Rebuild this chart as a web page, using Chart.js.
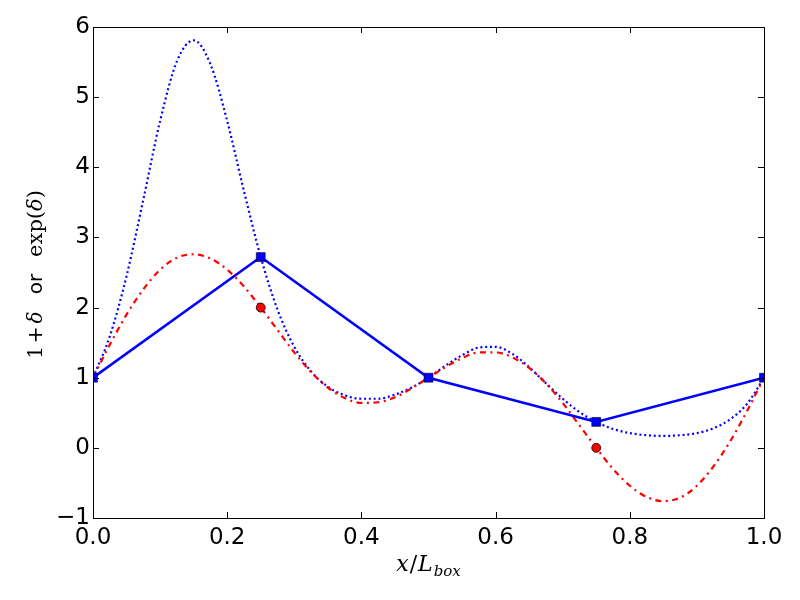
<!DOCTYPE html>
<html>
<head>
<meta charset="utf-8">
<script src="https://cdn.jsdelivr.net/npm/chart.js@4"></script>
<style>
  html, body { margin: 0; padding: 0; background: #fff; }
  #wrap { width: 800px; height: 600px; }
</style>
</head>
<body>
<div id="wrap"><canvas id="chart" width="800" height="600"></canvas></div>
<script>
// values
var xFine = [0, 0.025, 0.05, 0.075, 0.1, 0.125, 0.15, 0.175, 0.2, 0.225, 0.25,
             0.275, 0.3, 0.325, 0.35, 0.375, 0.4, 0.425, 0.45, 0.475, 0.5,
             0.525, 0.55, 0.575, 0.6, 0.625, 0.65, 0.675, 0.7, 0.725, 0.75,
             0.775, 0.8, 0.825, 0.85, 0.875, 0.9, 0.925, 0.95, 0.975, 1];
var onePlusDelta = [1.00, 1.47, 1.90, 2.26, 2.54, 2.71, 2.76, 2.70, 2.54, 2.30, 2.00,
                    1.68, 1.36, 1.08, 0.86, 0.71, 0.64, 0.65, 0.72, 0.85, 1.00,
                    1.15, 1.28, 1.36, 1.36, 1.29, 1.14, 0.92, 0.64, 0.32, 0.00,
                    -0.30, -0.54, -0.70, -0.76, -0.71, -0.54, -0.26, 0.10, 0.53, 1.00];
var expDelta = [1.00, 1.59, 2.45, 3.54, 4.66, 5.51, 5.81, 5.47, 4.66, 3.66, 2.72,
                1.97, 1.44, 1.09, 0.87, 0.75, 0.70, 0.70, 0.76, 0.86, 1.00,
                1.17, 1.32, 1.43, 1.44, 1.34, 1.15, 0.92, 0.70, 0.51, 0.37,
                0.27, 0.21, 0.18, 0.17, 0.18, 0.21, 0.28, 0.41, 0.63, 1.00];
var xGrid = [0, 0.25, 0.5, 0.75, 1];
var expGrid = [1, 2.72, 1, 0.37, 1];
var xDots = [0.25, 0.75];
var dotVals = [2, 0];
var xTicks = [0, 0.2, 0.4, 0.6, 0.8, 1];
var yTicks = [-1, 0, 1, 2, 3, 4, 5, 6];

function pairs(xs, ys) {
  return xs.map(function (x, i) { return { x: x, y: ys[i] }; });
}

function drawPieces(c, pieces, cx, baseY) {
  var total = 0;
  pieces.forEach(function (p) {
    c.font = p.font || c.font;
    p.w = p.t ? c.measureText(p.t).width : p.gap;
    total += p.w;
  });
  var x = cx - total / 2;
  pieces.forEach(function (p) {
    if (p.t) {
      c.font = p.font;
      c.fillText(p.t, x, baseY + (p.dy || 0));
    }
    x += p.w;
  });
}

// box, inward ticks and the two axis titles
var framePlugin = {
  id: 'frame',
  afterDraw: function (chart) {
    var c = chart.ctx, a = chart.chartArea;
    var sx = chart.scales.x, sy = chart.scales.y;
    c.save();
    c.strokeStyle = '#000';
    c.lineWidth = 1;
    c.strokeRect(a.left + 0.5, a.top + 0.5, a.right - a.left, a.bottom - a.top);
    c.beginPath();
    xTicks.forEach(function (v) {
      var px = Math.round(sx.getPixelForValue(v)) + 0.5;
      c.moveTo(px, a.bottom); c.lineTo(px, a.bottom - 6);
      c.moveTo(px, a.top); c.lineTo(px, a.top + 6);
    });
    yTicks.forEach(function (v) {
      var py = Math.round(sy.getPixelForValue(v)) + 0.5;
      c.moveTo(a.left, py); c.lineTo(a.left + 6, py);
      c.moveTo(a.right, py); c.lineTo(a.right - 6, py);
    });
    c.stroke();

    c.fillStyle = '#000';
    c.textBaseline = 'alphabetic';
    c.textAlign = 'left';
    var serif = '"DejaVu Serif"';
    drawPieces(c, [
      { t: 'x', font: 'italic 22px ' + serif },
      { gap: 1 },
      { t: '/', font: '22px ' + serif },
      { gap: 1 },
      { t: 'L', font: 'italic 22px ' + serif },
      { gap: 1 },
      { t: 'box', font: 'italic 15px ' + serif, dy: 5 }
    ], (a.left + a.right) / 2, 571);

    c.translate(42, (a.top + a.bottom) / 2 + 2);
    c.rotate(-Math.PI / 2);
    drawPieces(c, [
      { t: '1', font: '20px ' + serif },
      { gap: 3 },
      { t: '+', font: '20px ' + serif },
      { gap: 3 },
      { t: '\u03b4', font: 'italic 20px ' + serif },
      { gap: 17 },
      { t: 'or', font: '20px "DejaVu Sans"' },
      { gap: 17 },
      { t: 'exp(', font: '21px ' + serif },
      { t: '\u03b4', font: 'italic 21px ' + serif },
      { t: ')', font: '21px ' + serif }
    ], 0, 0);
    c.restore();
  }
};

var tickFont = { family: '"DejaVu Sans"', size: 23 };

new Chart(document.getElementById('chart'), {
  type: 'line',
  data: {
    datasets: [
      {
        data: pairs(xGrid, expGrid),
        borderColor: '#0000ff',
        borderWidth: 2.6,
        pointStyle: 'rect',
        pointRadius: 6.3,
        pointBackgroundColor: '#0000ff',
        pointBorderColor: '#000',
        pointBorderWidth: 0.6,
        order: 0
      },
      {
        data: pairs(xDots, dotVals),
        showLine: false,
        pointRadius: 4.5,
        pointBackgroundColor: '#ff0000',
        pointBorderColor: '#000',
        pointBorderWidth: 0.8,
        order: 1
      },
      {
        data: pairs(xFine, onePlusDelta),
        borderColor: '#ff0000',
        borderWidth: 2.2,
        borderDash: [6, 4.5, 2, 4.5],
        pointRadius: 0,
        cubicInterpolationMode: 'monotone',
        order: 2
      },
      {
        data: pairs(xFine, expDelta),
        borderColor: '#0000ff',
        borderWidth: 2.2,
        borderDash: [2, 2.8],
        pointRadius: 0,
        cubicInterpolationMode: 'monotone',
        order: 3
      }
    ]
  },
  options: {
    responsive: false,
    animation: false,
    layout: { padding: { top: 27, right: 36, left: 0, bottom: 0 } },
    plugins: { legend: { display: false }, tooltip: { enabled: false } },
    scales: {
      x: {
        type: 'linear',
        min: 0,
        max: 1,
        grid: { display: false, drawTicks: false },
        border: { display: false },
        afterBuildTicks: function (s) { s.ticks = xTicks.map(function (v) { return { value: v }; }); },
        afterFit: function (s) { s.height = 82; },
        ticks: {
          color: '#000',
          font: tickFont,
          padding: 6,
          maxRotation: 0,
          autoSkip: false,
          callback: function (v) { return v.toFixed(1); }
        }
      },
      y: {
        min: -1,
        max: 6,
        grid: { display: false, drawTicks: false },
        border: { display: false },
        afterBuildTicks: function (s) { s.ticks = yTicks.map(function (v) { return { value: v }; }); },
        afterFit: function (s) { s.width = 93; },
        ticks: {
          color: '#000',
          font: tickFont,
          padding: 3,
          autoSkip: false,
          callback: function (v) { return v < 0 ? '\u2212' + Math.abs(v) : String(v); }
        }
      }
    }
  },
  plugins: [framePlugin]
});
</script>
</body>
</html>
